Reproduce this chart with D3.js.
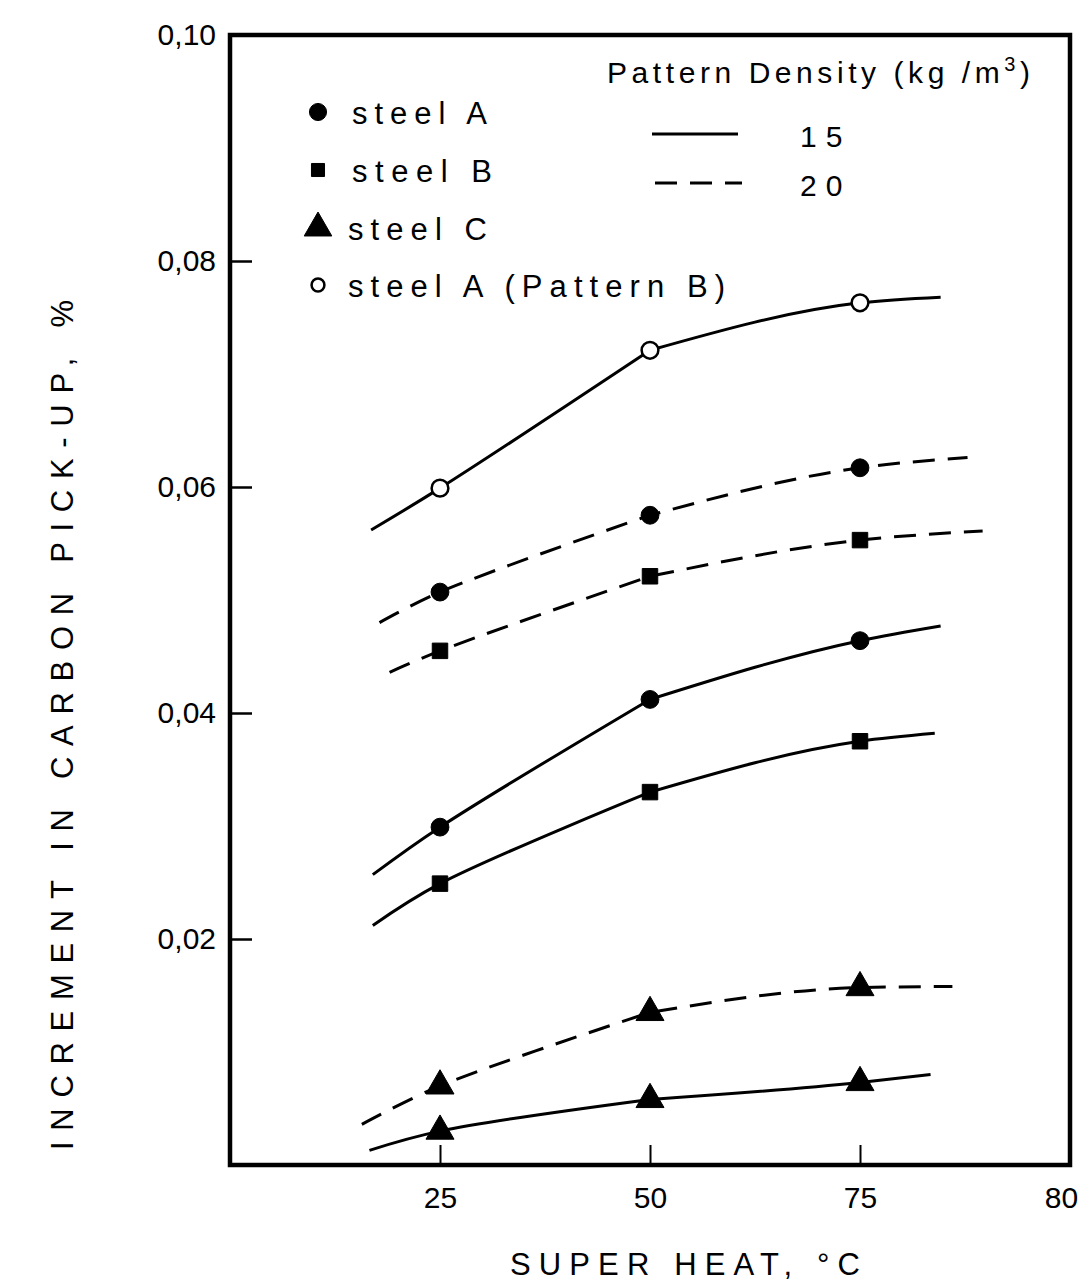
<!DOCTYPE html>
<html>
<head>
<meta charset="utf-8">
<script src="https://cdn.jsdelivr.net/npm/d3@7"></script>
<style>
  html, body { margin: 0; padding: 0; background: #fff; }
  text { font-family: "Liberation Sans", Arial, sans-serif; fill: #000; }
</style>
</head>
<body>
<svg width="1083" height="1284"></svg>
<script>
// superheat (°C) at which carbon pick-up was measured
const superHeat = [25, 50, 75];

// axis ticks, as printed
const xTickValues = [25, 50, 75, 100];
const xTickLabels = ["25", "50", "75", "80"];
const yTickValues = [0.02, 0.04, 0.06, 0.08, 0.10];
const yTickLabels = ["0,02", "0,04", "0,06", "0,08", "0,10"];

// increment in carbon pick-up, % -- pattern density 15 kg/m3 (solid)
const steelA15 = [0.0299, 0.0412, 0.0464];
const steelB15 = [0.0249, 0.0330, 0.0375];
const steelC15 = [0.0030, 0.0058, 0.0073];
const steelAPatternB15 = [0.0599, 0.0721, 0.0763];

// pattern density 20 kg/m3 (dashed)
const steelA20 = [0.0507, 0.0575, 0.0617];
const steelB20 = [0.0455, 0.0521, 0.0553];
const steelC20 = [0.0070, 0.0135, 0.0157];

// where each fitted curve starts and ends [superheat, pick-up]
const steelA15Ends = [[17.0, 0.0257], [84.6, 0.0477]];
const steelB15Ends = [[17.0, 0.0212], [83.9, 0.0382]];
const steelC15Ends = [[16.6, 0.0013], [83.4, 0.0080]];
const steelAPatternB15Ends = [[16.8, 0.0562], [84.6, 0.0768]];
const steelA20Ends = [[17.8, 0.0480], [87.8, 0.0626]];
const steelB20Ends = [[19.0, 0.0436], [89.6, 0.0561]];
const steelC20Ends = [[15.7, 0.0036], [86.0, 0.0158]];

const legendSteels = ["steel A", "steel B", "steel C", "steel A (Pattern B)"];
const legendDensities = ["15", "20"];

const series = [
  {vals: steelAPatternB15, ends: steelAPatternB15Ends, marker: "open", dash: false},
  {vals: steelA20, ends: steelA20Ends, marker: "circle", dash: true},
  {vals: steelB20, ends: steelB20Ends, marker: "square", dash: true},
  {vals: steelA15, ends: steelA15Ends, marker: "circle", dash: false},
  {vals: steelB15, ends: steelB15Ends, marker: "square", dash: false},
  {vals: steelC20, ends: steelC20Ends, marker: "triangle", dash: true},
  {vals: steelC15, ends: steelC15Ends, marker: "triangle", dash: false}
];

const svg = d3.select("svg");
const mLeft = 230, mRight = 1070, mTop = 35, mBottom = 1165;

const x = d3.scaleLinear().domain([0, 100]).range([mLeft, mRight]);
const y = d3.scaleLinear().domain([0, 0.10]).range([mBottom, mTop]);

const dashes = "22,13";

// hand-drawn look: nearly straight up to 50 °C, then bending over
const lineRise = d3.line()
    .x(d => x(d[0]))
    .y(d => y(d[1]))
    .curve(d3.curveCatmullRom.alpha(0.5));
const lineBend = d3.line()
    .x(d => x(d[0]))
    .y(d => y(d[1]))
    .curve(d3.curveMonotoneX);

const symbolFor = {
  circle: d3.symbol(d3.symbolCircle, 250),
  open: d3.symbol(d3.symbolCircle, 220),
  square: d3.symbol(d3.symbolSquare, 240),
  triangle: d3.symbol(d3.symbolTriangle, 340)
};

function drawMarker(g, type, cx, cy) {
  g.append("path")
      .attr("transform", "translate(" + cx + "," + cy + ")")
      .attr("d", symbolFor[type]())
      .attr("fill", type == "open" ? "#fff" : "#000")
      .attr("stroke", "#000")
      .attr("stroke-width", type == "open" ? 2.5 : 1);
}

// axes (ticks point inward)
const xAxis = svg.append("g")
    .attr("transform", "translate(0," + mBottom + ")")
    .call(d3.axisBottom(x)
      .tickValues(xTickValues)
      .tickSizeInner(-20).tickSizeOuter(0).tickPadding(22)
      .tickFormat((d, i) => xTickLabels[i]));
xAxis.select(".domain").remove();
xAxis.selectAll("line").attr("stroke-width", 2);
xAxis.selectAll("text").attr("font-size", 30).attr("font-family", null)
    .attr("dx", (d, i) => i == xTickValues.length - 1 ? -9 : 0);

const yAxis = svg.append("g")
    .attr("transform", "translate(" + mLeft + ",0)")
    .call(d3.axisLeft(y)
      .tickValues(yTickValues)
      .tickSizeInner(-22).tickSizeOuter(0).tickPadding(14)
      .tickFormat((d, i) => yTickLabels[i]));
yAxis.select(".domain").remove();
yAxis.selectAll("line").attr("stroke-width", 2.5);
yAxis.selectAll("text").attr("font-size", 30).attr("font-family", null);

// frame
svg.append("rect")
    .attr("x", mLeft).attr("y", mTop)
    .attr("width", mRight - mLeft).attr("height", mBottom - mTop)
    .attr("fill", "none").attr("stroke", "#000").attr("stroke-width", 4.5);

// curves + markers
const plot = svg.append("g");
series.forEach(s => {
  const pts = superHeat.map((t, i) => [t, s.vals[i]]);
  const rise = lineRise([s.ends[0], pts[0], pts[1]]);
  const bend = lineBend([pts[1], pts[2], s.ends[1]]);
  plot.append("path")
      .attr("fill", "none")
      .attr("stroke", "#000")
      .attr("stroke-width", 3)
      .attr("stroke-linejoin", "round")
      .attr("stroke-dasharray", s.dash ? dashes : null)
      .attr("d", rise + bend.replace(/^M[^A-Za-z]*/, ""));
});
series.forEach(s => {
  superHeat.forEach((t, i) => drawMarker(plot, s.marker, x(t), y(s.vals[i])));
});

// legend: steels
const leg = svg.append("g");
const legMarkers = ["circle", "square", "triangle", "open"];
const legY = [112, 170, 228, 285];
const legX = [352, 352, 348, 348];
const legLen = [135, 140, 139, 377];
legendSteels.forEach((name, i) => {
  const type = legMarkers[i];
  const sym = type == "square" ? d3.symbol(d3.symbolSquare, 170)
            : type == "triangle" ? d3.symbol(d3.symbolTriangle, 330)
            : type == "open" ? d3.symbol(d3.symbolCircle, 130)
            : d3.symbol(d3.symbolCircle, 230);
  leg.append("path")
      .attr("transform", "translate(" + 318 + "," + legY[i] + ")")
      .attr("d", sym())
      .attr("fill", type == "open" ? "#fff" : "#000")
      .attr("stroke", "#000")
      .attr("stroke-width", type == "open" ? 2.5 : 1);
  leg.append("text")
      .attr("x", legX[i]).attr("y", legY[i] + 12)
      .attr("font-size", 31)
      .attr("textLength", legLen[i])
      .attr("lengthAdjust", "spacing")
      .text(name);
});

// legend: pattern density
const dens = leg.append("text")
    .attr("x", 607).attr("y", 83)
    .attr("font-size", 30)
    .attr("textLength", 423)
    .attr("lengthAdjust", "spacing");
dens.append("tspan").text("Pattern Density (kg /m");
dens.append("tspan").attr("font-size", 20).attr("dy", -12).text("3");
dens.append("tspan").attr("dy", 12).text(")");

const densY = [134, 183];
legendDensities.forEach((d, i) => {
  leg.append("line")
      .attr("x1", 652 + i * 3).attr("x2", 738 + i * 4)
      .attr("y1", densY[i]).attr("y2", densY[i])
      .attr("stroke", "#000").attr("stroke-width", 3)
      .attr("stroke-dasharray", i == 1 ? dashes : null);
  leg.append("text")
      .attr("x", 800).attr("y", densY[i] + 13)
      .attr("font-size", 30)
      .attr("letter-spacing", 9)
      .text(d);
});

// axis titles
svg.append("text")
    .attr("x", 510).attr("y", 1275)
    .attr("font-size", 31)
    .attr("textLength", 350)
    .attr("lengthAdjust", "spacing")
    .text("SUPER  HEAT, °C");

svg.append("text")
    .attr("transform", "translate(73,1150) rotate(-90)")
    .attr("font-size", 31)
    .attr("textLength", 850)
    .attr("lengthAdjust", "spacing")
    .text("INCREMENT   IN   CARBON   PICK-UP, %");
</script>
</body>
</html>
